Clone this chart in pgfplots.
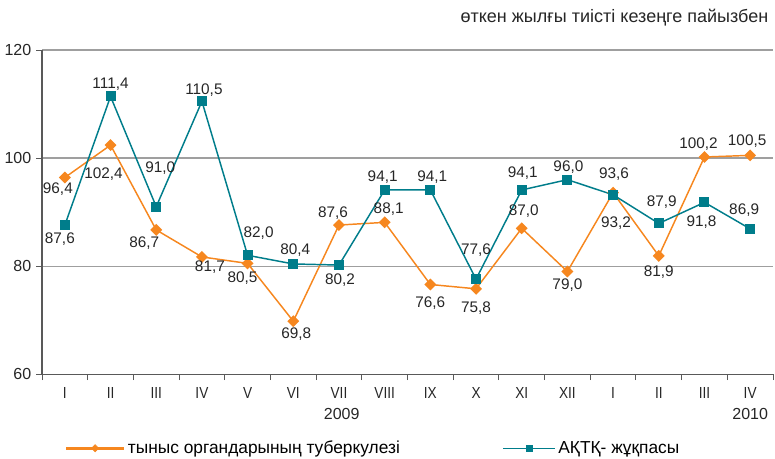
\documentclass[border=0pt]{standalone}
\usepackage{fontspec}
\setmainfont{Liberation Sans}
\newfontfamily\narrowfont[FakeStretch=0.85]{Liberation Sans}
\usepackage{pgfplots}
\usepackage{pgfplotstable}
\pgfplotsset{compat=1.18}

\definecolor{orangec}{RGB}{246,135,31}
\definecolor{tealc}{RGB}{0,125,139}

% x y, label offset dx dy (px, dy down)
\pgfplotstableread{
x y dx dy
0 96.4 -7 12
1 102.4 -7 29
2 86.7 -12 13
3 81.7 8 10
4 80.5 -5 15
5 69.8 3 13
6 87.6 -6 -12
7 88.1 4 -13
8 76.6 0 19
9 75.8 0 19
10 87.0 2 -17
11 79.0 0 14
12 93.6 1 -19
13 81.9 0 16
14 100.2 -6 -13
15 100.5 -3 -14
}\tuberc

\pgfplotstableread{
x y dx dy
0 87.6 -5 14
1 111.4 0 -12
2 91.0 4 -39
3 110.5 2 -11
4 82.0 11 -22
5 80.4 2 -14
6 80.2 1 15
7 94.1 -2 -13
8 94.1 2 -13
9 77.6 0 -29
10 94.1 1 -17
11 96.0 1 -13
12 93.2 3 28
13 87.9 3 -21
14 91.8 -3 20
15 86.9 -6 -19
}\aids

\begin{document}
\begin{tikzpicture}
\begin{axis}[
    scale only axis,
    width=548pt, height=243pt,
    xmin=-0.5, xmax=15.5,
    ymin=60, ymax=120,
    ytick={60,80,100,120},
    xtick={-0.5,0.5,...,15.5},
    x tick label as interval,
    xticklabels={I,II,III,IV,V,VI,VII,VIII,IX,X,XI,XII,I,II,III,IV},
    axis x line*=bottom, axis y line*=left,
    axis line style={-, draw=black!65, line width=0.8pt},
    tick align=outside,
    major tick length=4.5pt,
    tick style={draw=black!65, line width=0.7pt},
    ymajorgrids,
    grid style={gray!75, line width=0.9pt},
    /pgf/number format/assume math mode=true,
    yticklabel style={font=\fontsize{12}{14}\selectfont, text=black!85},
    xticklabel style={font=\narrowfont\fontsize{12}{14}\selectfont, text=black!85, yshift=-2.2pt},
    clip=false,
    nodes near coords={\pgfmathprintnumber[fixed,fixed zerofill,precision=1,use comma,assume math mode=true]{\pgfplotspointmeta}},
    visualization depends on={\thisrow{dx} \as \dx},
    visualization depends on={\thisrow{dy} \as \dy},
    nodes near coords style={anchor=center, text=black!85,
      font=\fontsize{11.5}{13}\selectfont,
      xshift={0.75*(\dx)*1pt}, yshift={-0.75*(\dy)*1pt}},
    legend columns=2,
    legend cell align=left,
    legend style={at={(rel axis cs:0,0)}, anchor=west, xshift=17pt, yshift=-55.5pt,
      draw=none, fill=none, inner sep=0pt,
      font=\fontsize{13}{15}\selectfont,
      /tikz/every even column/.append style={column sep=75pt}},
]
\addplot[orangec, line width=1.1pt, mark=square*, mark size=2.6pt,
    mark options={rotate=45}, point meta=explicit, forget plot]
    table[x=x, y=y, meta=y] {\tuberc};
\addplot[tealc, line width=1.1pt, mark=square*, mark size=3.2pt,
    point meta=explicit, forget plot]
    table[x=x, y=y, meta=y] {\aids};

\addlegendimage{legend image code/.code={\draw[orangec, line width=2.2pt,
      mark=square*, mark size=1.9pt, mark options={rotate=45, line width=0.5pt},
      mark repeat=2, mark phase=2]
      plot coordinates {(0pt,0pt) (21.5pt,0pt) (43pt,0pt)};}}
\addlegendentry{тыныс органдарының туберкулезі}
\addlegendimage{legend image code/.code={\draw[tealc, line width=0.8pt,
      mark=square*, mark size=2.2pt, mark repeat=2, mark phase=2]
      plot coordinates {(0pt,0pt) (19.5pt,0pt) (39pt,0pt)};}}
\addlegendentry{АҚТҚ- жұқпасы}

\node[font=\fontsize{12}{14}\selectfont, text=black!85] at (axis cs:6.06,60) [yshift=-29.5pt] {2009};
\node[font=\fontsize{12}{14}\selectfont, text=black!85] at (axis cs:15,60) [yshift=-29.5pt] {2010};
\node[anchor=east, font=\fontsize{13.5}{15}\selectfont, text=black!85] at (rel axis cs:1,1) [yshift=24pt] {өткен жылғы тиісті кезеңге пайызбен};
\end{axis}
\path (current axis.south west) ++(-31.5pt,-63pt) coordinate (bl);
\path (current axis.north east) ++(1.5pt,37.5pt) coordinate (tr);
\pgfresetboundingbox
\path[use as bounding box] (bl) rectangle (tr);
\end{tikzpicture}
\end{document}
